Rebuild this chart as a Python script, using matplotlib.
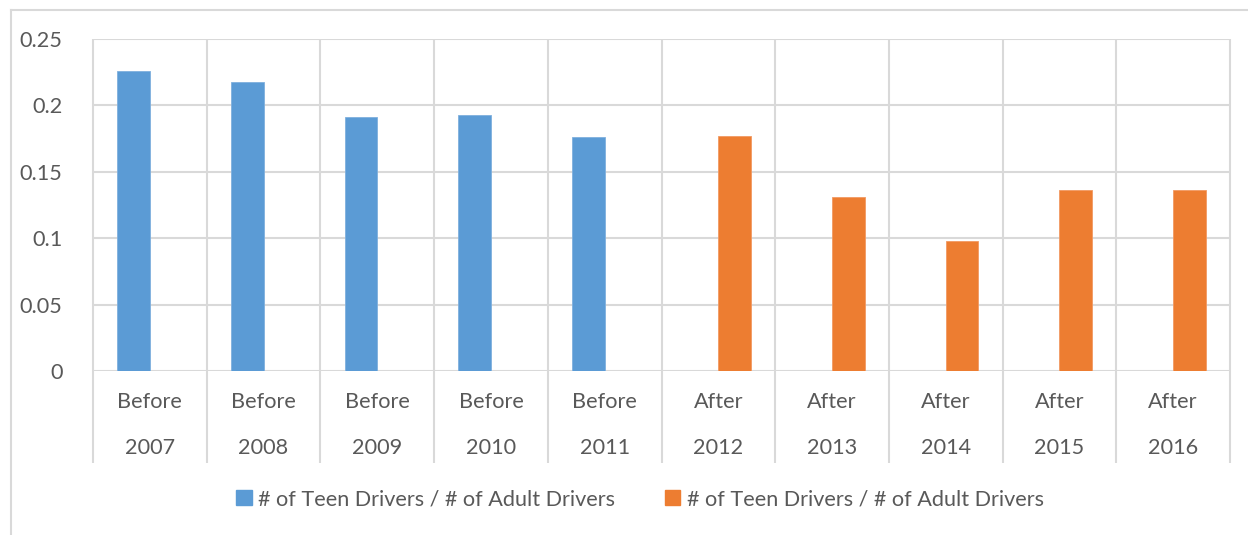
import matplotlib.pyplot as plt
from matplotlib.lines import Line2D
from matplotlib.patches import Patch
import numpy as np

plt.rcParams['font.family'] = ['Lato', 'DejaVu Sans']

years = ['2007', '2008', '2009', '2010', '2011', '2012', '2013', '2014', '2015', '2016']
periods = ['Before'] * 5 + ['After'] * 5
before = [0.2259, 0.2176, 0.191, 0.1925, 0.1765, np.nan, np.nan, np.nan, np.nan, np.nan]
after = [np.nan, np.nan, np.nan, np.nan, np.nan, 0.177, 0.1313, 0.0982, 0.1366, 0.1364]
series_name = '# of Teen Drivers / # of Adult Drivers'

blue = '#5B9BD5'
orange = '#ED7D31'
grid = '#D9D9D9'
txt = '#595959'
fs = 15.6

fig = plt.figure(figsize=(12.48, 5.35), dpi=100)
ax = fig.add_axes([93 / 1248, 1 - 371 / 535, (1230 - 93) / 1248, 332 / 535])

x = np.arange(len(years))
w = 1 / 3.5
ax.bar(x - w, before, width=w, align='edge', color=blue, edgecolor='#7FB0DE', linewidth=0.6, zorder=3)
ax.bar(x, after, width=w, align='edge', color=orange, edgecolor='#F29A63', linewidth=0.6, zorder=3)

ax.set_xlim(-0.5, len(years) - 0.5)
ax.set_ylim(0, 0.25)
ax.set_yticks([0, 0.05, 0.1, 0.15, 0.2, 0.25])
ax.set_yticklabels(['0', '0.05', '0.1', '0.15', '0.2', '0.25'])
ax.tick_params(axis='y', length=0, pad=22, labelsize=fs, labelcolor=txt)
ax.set_xticks([])

for s in ax.spines.values():
    s.set_visible(False)

# horizontal gridlines
for yv in ax.get_yticks():
    ax.axhline(yv, color=grid, lw=1.5, zorder=1)

# vertical lines at category boundaries, extended through the label area
bounds = np.arange(-0.5, len(years), 1.0)
ax.vlines(bounds, -0.277, 1, transform=ax.get_xaxis_transform(), colors=grid,
          lw=1.5, clip_on=False, zorder=1)

# two-level category labels
for i in x:
    ax.text(i, -0.093, periods[i], transform=ax.get_xaxis_transform(), ha='center',
            va='center', fontsize=fs, color=txt)
    ax.text(i, -0.232, years[i], transform=ax.get_xaxis_transform(), ha='center',
            va='center', fontsize=fs, color=txt)

# legend
handles = [Patch(color=blue, label=series_name), Patch(color=orange, label=series_name)]
fig.legend(handles=handles, ncol=2, loc='center', bbox_to_anchor=(640 / 1248, 1 - 499 / 535),
           frameon=False, fontsize=fs, labelcolor=txt, handlelength=0.7, handleheight=0.7,
           handletextpad=0.3, columnspacing=2.3)

# chart border (top and left visible)
fig.add_artist(Line2D([11 / 1248, 1], [1 - 10 / 535, 1 - 10 / 535], color=grid, lw=1.5))
fig.add_artist(Line2D([11 / 1248, 11 / 1248], [0, 1 - 10 / 535], color=grid, lw=1.5))

fig.savefig('out.png', dpi=100)
